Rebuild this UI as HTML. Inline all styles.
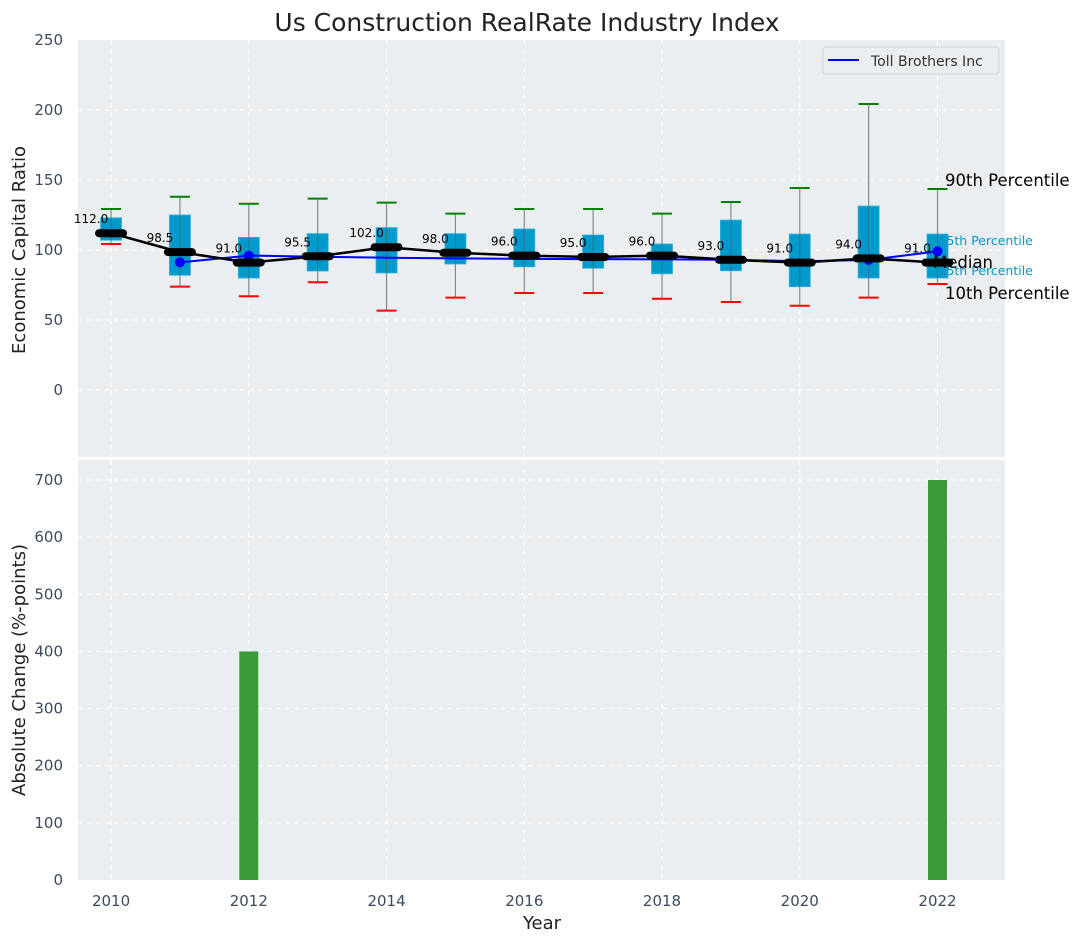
<!DOCTYPE html>
<html><head><meta charset="utf-8">
<style>
html,body{margin:0;padding:0;background:#fff;}
svg{display:block;font-family:"DejaVu Sans","Liberation Sans",sans-serif;}
</style></head>
<body>
<svg id="chart" width="1080" height="942" viewBox="0 0 1080 942" xmlns="http://www.w3.org/2000/svg"></svg>
<script>
const years=[2010,2011,2012,2013,2014,2015,2016,2017,2018,2019,2020,2021,2022];
const medians=[112.0,98.5,91.0,95.5,102.0,98.0,96.0,95.0,96.0,93.0,91.0,94.0,91.0];
const q75=[123,125,109,111.7,116,111.7,115,110.7,104.3,121.4,111.4,131.4,111.4];
const q25=[107,82,80,85,83.6,90,88,87,83,85.2,73.8,80,80];
const p90=[129.3,138,133,136.7,133.8,126,129.3,129.3,126,134.3,144.3,204.3,143.6];
const p10=[104.3,73.8,67,77,56.7,66,69.3,69.3,65.2,62.9,60.2,66,75.7];
const tollYears=[2011,2012,2013,2014,2015,2016,2017,2018,2019,2020,2021,2022];
const tollValues=[91.2,96,95.2,94.5,94,93.7,93.5,93.3,93,92,92.9,99];
const tollMarkerYears=[2011,2012,2021,2022];
const changeYears=[2012,2022];
const changeValues=[400,700];
const xTicks=[2010,2012,2014,2016,2018,2020,2022];
const yTicksTop=[0,50,100,150,200,250];
const yTicksBot=[0,100,200,300,400,500,600,700];

const svg=document.getElementById('chart');
const NS='http://www.w3.org/2000/svg';
function el(tag,attrs,parent){const e=document.createElementNS(NS,tag);for(const k in attrs)e.setAttribute(k,attrs[k]);(parent||svg).appendChild(e);return e;}
const L=78,R=1005,T1=40,B1=457,T2=460,B2=880;
const X=v=>L+(v-2009.52)*(R-L)/(2022.98-2009.52);
const Y1=v=>390-v*1.4;
const Y2=v=>B2-v*(B2-480)/700;
const tick='#3b4a5c';

let p=el('rect',{x:L,y:T1,width:R-L,height:B1-T1,fill:'#eaeef0'});

p=el('rect',{x:L,y:T2,width:R-L,height:B2-T2,fill:'#eaeef0'});


xTicks.forEach(t=>{
  el('line',{x1:X(t),x2:X(t),y1:T1,y2:B1,stroke:'#fff','stroke-dasharray':'5,4','stroke-width':1});
  el('line',{x1:X(t),x2:X(t),y1:T2,y2:B2,stroke:'#fff','stroke-dasharray':'5,4','stroke-width':1});
  const tx=el('text',{x:X(t),y:906,'text-anchor':'middle','font-size':15,fill:tick});tx.textContent=t;
  
});
yTicksTop.forEach(t=>{
  if(t<250) el('line',{x1:L,x2:R,y1:Y1(t),y2:Y1(t),stroke:'#fff','stroke-dasharray':'5,4','stroke-width':1});
  const tx=el('text',{x:63,y:Y1(t)+5,'text-anchor':'end','font-size':15,fill:tick});tx.textContent=t;
  
});
yTicksBot.forEach(t=>{
  if(t>0) el('line',{x1:L,x2:R,y1:Y2(t),y2:Y2(t),stroke:'#fff','stroke-dasharray':'5,4','stroke-width':1});
  const tx=el('text',{x:63,y:Y2(t)+5,'text-anchor':'end','font-size':15,fill:tick});tx.textContent=t;
  
});

const lastX=X(2022);
[['75th Percentile',241],['25th Percentile',271]].forEach(a=>{
  const t=el('text',{x:lastX+1,y:a[1]+4,'font-size':12.5,fill:'#0099cc'});t.textContent=a[0];
  
});

years.forEach((yr,i)=>{
  const cx=X(yr);
  let w=el('line',{x1:cx,x2:cx,y1:Y1(p10[i]),y2:Y1(p90[i]),stroke:'#888','stroke-width':1.2});
  
  let b=el('rect',{x:cx-10.5,y:Y1(q75[i]),width:21,height:Y1(q25[i])-Y1(q75[i]),fill:'#0099cc',stroke:'#33b0dd','stroke-width':0.8});
  
  el('line',{x1:cx,x2:cx,y1:Y1(q25[i]),y2:Y1(q75[i]),stroke:'#555','stroke-width':1,opacity:0.5});
  let g=el('line',{x1:cx-10,x2:cx+10,y1:Y1(p90[i]),y2:Y1(p90[i]),stroke:'#008000','stroke-width':2});
  
  let r=el('line',{x1:cx-10,x2:cx+10,y1:Y1(p10[i]),y2:Y1(p10[i]),stroke:'#ff0000','stroke-width':2});
  
});

let tp=tollYears.map((y,i)=>X(y)+','+Y1(tollValues[i])).join(' ');
let tl=el('polyline',{points:tp,fill:'none',stroke:'#0000ff','stroke-width':2});

tollYears.forEach((y,i)=>{
  if(tollMarkerYears.indexOf(y)<0) return;
  const c=el('circle',{cx:X(y),cy:Y1(tollValues[i]),r:5,fill:'#0000ff'});
  
});

let mp=years.map((y,i)=>X(y)+','+Y1(medians[i])).join(' ');
let ml=el('polyline',{points:mp,fill:'none',stroke:'#000','stroke-width':2.5});

years.forEach((yr,i)=>{
  const cx=X(yr),cy=Y1(medians[i]);
  const m=el('line',{x1:cx-12,x2:cx+12,y1:cy,y2:cy,stroke:'#000','stroke-width':8,'stroke-linecap':'round'});
  
  const t=el('text',{x:cx-20,y:cy-10,'text-anchor':'middle','font-size':12,fill:'#000'});
  t.textContent=medians[i].toFixed(1);
  
});

[['90th Percentile',180,945],['Median',262,933],['10th Percentile',293,945]].forEach(a=>{
  const t=el('text',{x:a[2],y:a[1]+6,'font-size':16.5,fill:'#000'});t.textContent=a[0];
  
});

changeYears.forEach((y,i)=>{
  const b=el('rect',{x:X(y)-9.5,y:Y2(changeValues[i]),width:19,height:B2-Y2(changeValues[i]),fill:'#3a9a3a'});
  
});

const lg=el('g',{});

el('rect',{x:823,y:47,width:176,height:27,rx:3,fill:'#eaeef0',stroke:'#d0d4d8'},lg);
el('line',{x1:828,x2:859,y1:60,y2:60,stroke:'#0000ff','stroke-width':2},lg);
const lt=el('text',{x:871,y:66,'font-size':14,fill:'#333'},lg);lt.textContent='Toll Brothers Inc';

let tt=el('text',{x:527,y:31,'text-anchor':'middle','font-size':25,fill:'#222'});tt.textContent='Us Construction RealRate Industry Index';

let ya=el('text',{x:0,y:0,'text-anchor':'middle','font-size':18,fill:'#222',transform:'translate(25,250) rotate(-90)'});ya.textContent='Economic Capital Ratio';

let yb=el('text',{x:0,y:0,'text-anchor':'middle','font-size':18,fill:'#222',transform:'translate(25,670) rotate(-90)'});yb.textContent='Absolute Change (%-points)';

let xa=el('text',{x:542,y:929,'text-anchor':'middle','font-size':18,fill:'#222'});xa.textContent='Year';

</script>
</body></html>
